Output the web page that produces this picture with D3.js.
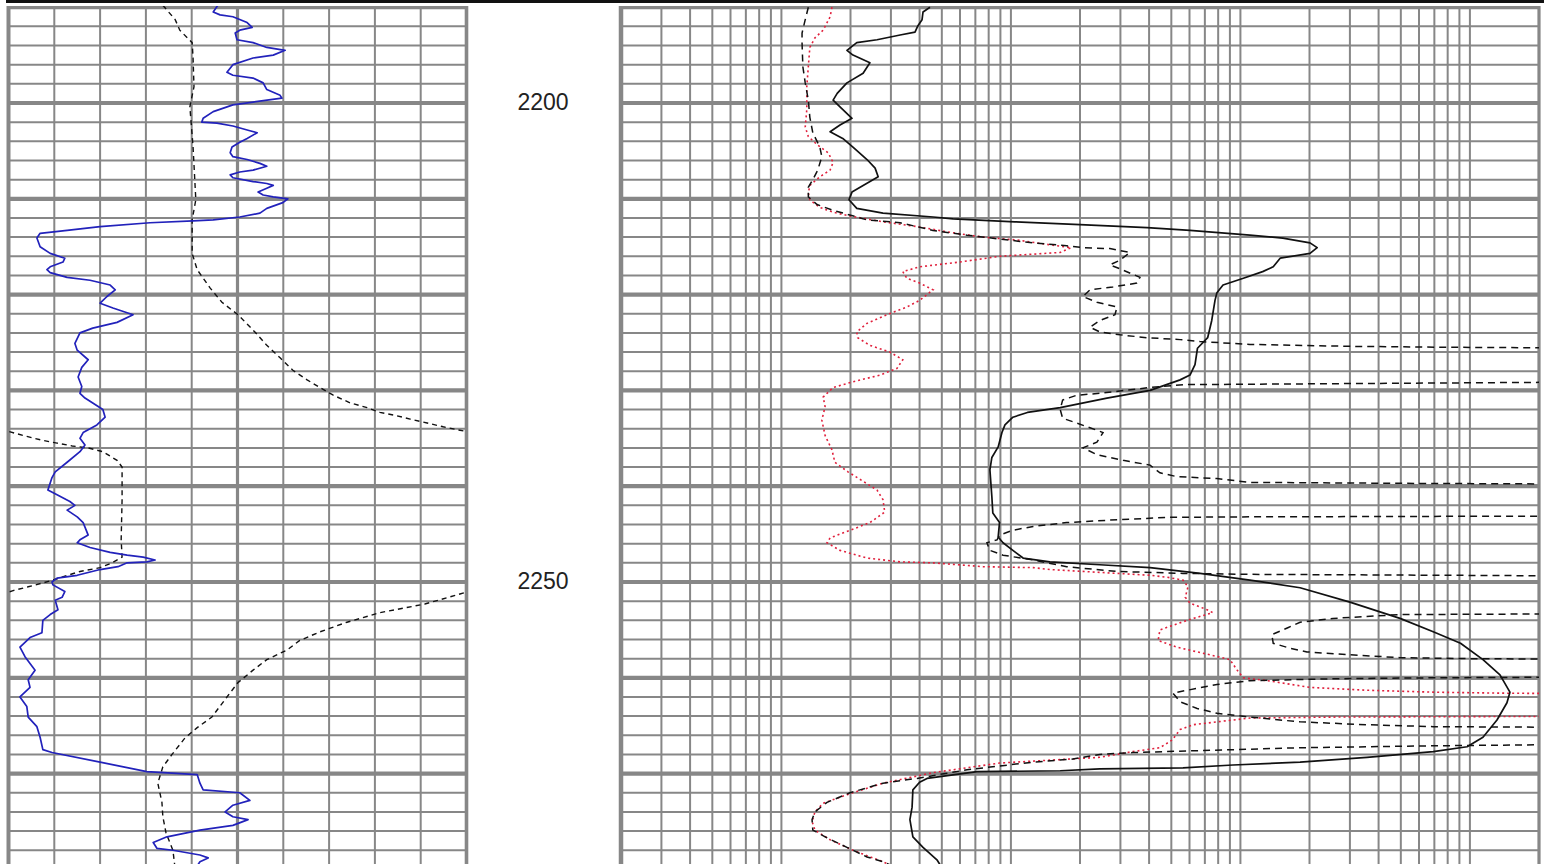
<!DOCTYPE html>
<html><head><meta charset="utf-8">
<script src="https://cdn.jsdelivr.net/npm/d3@7"></script>
<style>html,body{margin:0;padding:0;background:#fff;overflow:hidden}</style>
</head><body>
<svg id="chart" width="1544" height="864"></svg>
<script>
// ---------------- DATA ----------------
const depthRange = [2190, 2280];
const depthLabels = [2200, 2250];
const linearTicks = [0, 10, 20, 30, 40, 50, 60, 70, 80, 90, 100];
const logBases = [0.2, 2, 20, 200];
const logMultipliers = [1, 1.5, 2, 2.5, 3, 3.5, 4, 4.5, 5];
const logTop = 2000;

// Track 1 (linear 0-100): gamma ray [depth, value]
const grCurve = [[2189.8,45.7],[2190.5,44.7],[2190.8,46.2],[2191.0,49.0],[2191.6,52.1],[2192.1,53.2],[2192.4,50.5],[2192.7,49.5],[2193.4,49.9],[2193.7,53.4],[2194.2,56.4],[2194.5,60.4],[2195.0,57.8],[2195.3,53.4],[2196.0,49.0],[2196.8,47.7],[2197.1,49.0],[2197.4,53.4],[2197.9,55.6],[2198.6,56.4],[2199.2,59.3],[2199.5,59.7],[2199.9,53.4],[2200.2,49.0],[2200.9,44.7],[2201.6,42.5],[2202.0,42.2],[2202.1,45.5],[2202.4,49.0],[2202.9,52.7],[2203.1,54.3],[2203.7,52.1],[2204.1,50.5],[2204.6,48.8],[2205.2,48.4],[2205.6,49.0],[2205.9,52.1],[2206.3,54.9],[2206.6,56.4],[2207.0,53.4],[2207.2,50.5],[2207.5,48.4],[2207.8,49.0],[2208.2,53.4],[2208.4,56.4],[2208.6,57.8],[2208.9,56.4],[2209.3,54.5],[2209.6,55.6],[2209.8,57.8],[2210.0,61.0],[2210.4,59.9],[2211.0,56.4],[2211.5,54.9],[2211.9,50.5],[2212.2,44.7],[2212.3,40.3],[2212.5,30.9],[2212.9,20.0],[2213.3,12.8],[2213.6,6.9],[2214.1,6.2],[2215.0,6.9],[2215.7,9.1],[2216.2,12.3],[2216.6,11.9],[2217.1,9.1],[2217.4,8.4],[2217.7,9.1],[2218.2,12.8],[2218.5,17.8],[2219.0,22.2],[2219.5,23.3],[2220.2,21.5],[2220.9,20.0],[2221.4,22.8],[2222.1,27.2],[2222.9,23.7],[2223.5,18.4],[2224.0,15.6],[2225.1,14.5],[2225.8,15.0],[2226.8,17.4],[2227.6,16.0],[2228.6,15.2],[2229.6,16.0],[2230.3,15.6],[2230.8,16.7],[2232.0,20.6],[2232.8,21.1],[2233.6,19.3],[2234.4,16.3],[2235.0,15.6],[2235.7,16.7],[2236.4,15.6],[2237.5,12.8],[2238.5,10.2],[2239.1,9.5],[2240.4,8.6],[2240.9,10.6],[2241.6,13.4],[2242.0,14.5],[2242.5,12.8],[2243.2,15.0],[2243.8,16.3],[2245.1,17.4],[2245.6,15.6],[2245.9,15.0],[2246.4,17.8],[2246.9,22.2],[2247.2,25.9],[2247.4,29.4],[2247.7,32.0],[2247.9,30.2],[2248.0,25.9],[2248.4,23.9],[2248.7,20.0],[2249.3,15.0],[2249.6,10.6],[2250.0,9.5],[2250.3,9.7],[2251.0,12.3],[2251.6,11.7],[2251.9,10.2],[2252.9,10.8],[2253.4,9.1],[2254.0,7.5],[2255.3,7.3],[2255.8,4.7],[2256.8,2.5],[2257.8,3.6],[2259.2,5.8],[2260.2,4.3],[2261.0,4.7],[2262.0,2.5],[2263.0,4.0],[2264.1,4.3],[2265.1,6.2],[2266.2,6.9],[2267.5,7.5],[2267.8,9.5],[2268.8,20.0],[2269.8,30.2],[2270.1,41.2],[2271.0,41.8],[2271.7,42.5],[2272.0,50.5],[2272.8,52.7],[2273.3,49.0],[2274.0,47.3],[2274.5,49.0],[2274.8,52.3],[2275.4,49.0],[2275.9,41.8],[2276.6,34.6],[2277.2,31.6],[2277.8,32.4],[2278.0,35.9],[2278.5,41.8],[2278.8,43.6],[2279.2,41.8],[2280.0,40.7]];

// Track 1 dashed curve (values above 100 wrap back into the track)
const spCurve = [[2189.8,33.7],[2191.3,36.4],[2192.4,37.4],[2193.7,40.1],[2195.3,40.3],[2198.3,40.5],[2200.4,39.6],[2204.6,40.3],[2210.1,40.9],[2212.2,40.1],[2215.7,40.1],[2217.4,41.2],[2219.3,44.0],[2220.8,46.6],[2222.1,50.1],[2223.9,53.8],[2225.3,56.4],[2226.6,59.3],[2227.9,62.1],[2228.9,65.2],[2229.7,68.0],[2230.5,70.9],[2231.3,74.6],[2231.8,78.3],[2232.3,81.1],[2232.6,84.4],[2233.0,87.7],[2233.4,91.4],[2233.8,94.9],[2234.1,97.9],[2234.3,100.1],[2234.8,104.0],[2235.2,107.3],[2235.5,110.6],[2235.8,113.9],[2236.0,117.4],[2236.4,120.6],[2237.3,123.7],[2238.0,124.8],[2241.4,124.8],[2245.6,124.6],[2247.4,124.8],[2248.0,122.6],[2248.5,120.0],[2248.9,115.6],[2249.4,112.3],[2249.8,109.7],[2250.1,107.5],[2250.5,104.3],[2250.9,101.0],[2251.1,99.7],[2252.3,90.9],[2253.2,81.1],[2254.2,73.9],[2255.2,68.0],[2256.1,63.6],[2257.1,60.8],[2258.1,56.4],[2259.2,53.4],[2260.5,50.1],[2262.0,47.7],[2264.1,44.4],[2265.2,41.2],[2266.3,38.5],[2268.0,35.7],[2269.3,33.7],[2271.0,32.6],[2273.0,33.5],[2274.5,33.7],[2276.2,34.4],[2278.0,35.9],[2280.0,36.4]];

// Track 2 (log 0.2-2000): deep resistivity (solid)
const deepCurve = [[2190.0,4.44],[2190.5,4.14],[2191.3,4.10],[2191.9,3.94],[2192.6,3.82],[2192.9,3.29],[2193.4,2.61],[2193.7,2.13],[2194.5,1.93],[2195.0,2.05],[2195.8,2.43],[2196.9,2.27],[2197.9,1.93],[2199.0,1.75],[2199.7,1.68],[2200.4,1.80],[2201.6,2.03],[2202.3,1.80],[2203.0,1.63],[2203.7,1.85],[2204.6,2.05],[2205.9,2.36],[2206.8,2.56],[2207.7,2.64],[2208.6,2.27],[2209.3,2.03],[2210.1,1.97],[2211.0,2.13],[2211.5,2.77],[2211.9,4.58],[2212.1,5.6],[2212.4,10.4],[2212.7,20],[2213.0,39.2],[2213.3,60.3],[2213.8,110],[2214.1,153],[2214.6,201],[2215.1,216],[2215.7,201],[2216.2,149],[2217.1,139],[2217.6,125],[2218.3,103],[2219.0,84],[2219.8,79],[2220.6,77.5],[2222.7,75],[2224.5,72],[2225.6,65],[2227.3,63.4],[2228.4,60.3],[2228.9,54.6],[2230.0,40.4],[2230.8,26.2],[2231.8,16.4],[2232.3,11.8],[2232.8,10.2],[2233.6,9.42],[2234.4,9.14],[2235.9,8.8],[2237.0,8.26],[2238.3,8.1],[2239.7,8.18],[2241.1,8.26],[2242.8,8.34],[2243.8,8.92],[2245.3,8.8],[2245.9,9.24],[2246.7,10.2],[2247.5,11.3],[2247.9,14.8],[2248.2,24.4],[2248.5,40.4],[2249.1,66.7],[2249.8,110],[2250.6,182],[2252.1,300],[2253.8,496],[2255.2,692],[2256.4,910],[2258.1,1140],[2259.7,1352],[2261.5,1494],[2262.6,1450],[2264.4,1312],[2266.2,1140],[2267.2,972],[2267.7,692],[2268.3,356],[2268.8,182],[2269.1,92.8],[2269.4,56.2],[2269.5,24.4],[2269.7,16.4],[2269.8,7.12],[2270.5,4.31],[2270.9,4.0],[2271.7,3.74],[2273.5,3.71],[2274.8,3.63],[2276.6,3.74],[2277.7,4.14],[2279.0,4.76],[2279.8,5.0]];

// Track 2: medium resistivity (dashed); 5000 = off scale
const medCurve = [[2190.0,1.31],[2191.3,1.27],[2192.7,1.23],[2193.7,1.23],[2196.2,1.24],[2197.9,1.27],[2199.7,1.31],[2201.5,1.33],[2203.1,1.37],[2204.6,1.47],[2205.6,1.50],[2207.0,1.44],[2208.0,1.37],[2208.8,1.31],[2209.8,1.31],[2210.6,1.43],[2211.2,1.68],[2212.2,2.36],[2212.5,3.29],[2213.3,4.58],[2213.8,6.44],[2214.2,8.92],[2214.6,12.5],[2214.9,17.5],[2215.1,20.6],[2215.2,27],[2215.6,33],[2216.4,29.9],[2216.9,27],[2217.4,30.5],[2218.2,36.5],[2218.8,35.4],[2219.2,27.8],[2219.5,22.1],[2220.2,20.6],[2220.8,23.7],[2221.3,29],[2222.1,28.4],[2222.7,24.4],[2223.4,22.1],[2223.9,24.4],[2224.2,29.9],[2224.5,39.2],[2224.7,54.6],[2224.9,66.7],[2225.2,110],[2225.4,300],[2225.5,818],[2225.6,5000],[2229.1,5000],[2229.4,56.2],[2229.7,40.4],[2230.3,24.4],[2230.5,19.4],[2231.0,16.8],[2232.0,16.4],[2232.9,16.8],[2233.9,22.1],[2234.4,25.2],[2235.4,23.7],[2236.0,20.6],[2236.7,23.7],[2237.3,30.8],[2237.8,40.4],[2238.6,44.6],[2239.0,52.8],[2239.2,79],[2239.6,110],[2239.7,496],[2239.8,5000],[2243.1,5000],[2243.2,110],[2243.25,49.3],[2243.5,29],[2243.8,17.5],[2244.2,12.5],[2244.6,10.2],[2245.1,8.92],[2245.6,8.7],[2245.9,7.86],[2246.7,8.1],[2247.2,9.24],[2247.7,12.5],[2248.4,17.5],[2248.9,29],[2249.1,56.2],[2249.2,110],[2249.3,818],[2249.4,5000],[2253.3,5000],[2253.4,496],[2253.8,253],[2254.2,182],[2254.8,160],[2255.5,137],[2256.4,139],[2256.9,164],[2257.3,195],[2257.6,300],[2257.9,496],[2258.0,972],[2258.1,5000],[2259.9,5000],[2260.0,692],[2260.1,253],[2260.3,110],[2260.7,79],[2261.3,58.6],[2261.6,50.8],[2262.5,54.6],[2263.2,64.8],[2263.7,79],[2264.1,110],[2264.6,182],[2264.9,356],[2265.1,692],[2265.2,5000],[2266.9,5000],[2267.1,692],[2267.3,182],[2267.6,66.7],[2267.8,34],[2268.0,24.4],[2268.5,18.3],[2268.8,12.5],[2269.6,6.44],[2270.5,3.9],[2271.0,2.77],[2272.0,1.99],[2273.0,1.58],[2274.0,1.40],[2274.8,1.36],[2275.9,1.37],[2276.7,1.58],[2277.7,1.93],[2278.7,2.36],[2279.2,2.77],[2280.0,3.29]];

// Track 2: shallow resistivity (red dotted)
const shallowCurve = [[2190.0,1.66],[2191.0,1.63],[2192.4,1.52],[2193.2,1.40],[2194.2,1.33],[2196.2,1.31],[2198.3,1.29],[2200.7,1.29],[2202.5,1.27],[2203.5,1.31],[2204.4,1.44],[2205.2,1.60],[2206.2,1.68],[2207.0,1.63],[2207.7,1.47],[2208.6,1.33],[2209.4,1.31],[2210.1,1.33],[2210.9,1.47],[2211.4,1.68],[2211.8,1.99],[2212.4,2.77],[2212.9,3.9],[2213.5,5.43],[2214.0,7.56],[2214.3,10.6],[2214.8,14.8],[2215.1,18.3],[2215.6,16.4],[2216.0,8.92],[2216.6,6.0],[2217.1,4.0],[2217.6,3.38],[2218.3,3.52],[2218.8,4.0],[2219.5,4.58],[2220.6,4.0],[2221.3,3.52],[2222.1,2.88],[2223.0,2.36],[2223.9,2.13],[2224.5,2.15],[2225.3,2.43],[2226.0,2.97],[2226.8,3.38],[2227.7,3.19],[2228.4,2.69],[2229.1,2.05],[2229.7,1.68],[2230.7,1.52],[2231.7,1.55],[2233.1,1.50],[2234.7,1.55],[2236.2,1.66],[2237.5,1.71],[2238.5,1.95],[2239.4,2.24],[2240.4,2.61],[2241.4,2.77],[2242.7,2.82],[2243.8,2.43],[2244.6,1.99],[2245.4,1.63],[2245.9,1.58],[2246.7,1.80],[2247.5,2.36],[2247.9,3.29],[2248.0,4.58],[2248.4,7.56],[2248.5,12.5],[2248.7,14.8],[2249.1,29],[2249.3,40.4],[2249.5,47.8],[2249.8,56.2],[2250.5,59.1],[2251.6,57.5],[2252.2,60.3],[2252.9,71.6],[2253.2,75.7],[2254.0,58.6],[2255.0,44.6],[2256.1,43.8],[2256.8,52.8],[2257.6,73.7],[2258.1,90],[2259.2,96.8],[2260.0,103],[2260.3,131],[2261.0,201],[2261.3,356],[2261.5,692],[2261.6,1352],[2261.7,5000],[2264.0,5000],[2264.1,253],[2264.2,110],[2264.6,79],[2264.9,62.2],[2265.4,54.6],[2266.5,50.4],[2267.3,44.6],[2267.7,34],[2268.3,24.4],[2268.4,20.6],[2268.9,8.92],[2269.9,4.58],[2271.0,2.77],[2272.2,1.93],[2273.1,1.52],[2274.0,1.40],[2275.0,1.36],[2275.9,1.40],[2276.9,1.63],[2278.0,2.05],[2279.2,2.77],[2280.0,3.29]];

// ---------------- DRAWING ----------------
const W = 1544, H = 864;
const gridTop = 6;
const svg = d3.select('#chart');
const y = d3.scaleLinear().domain(depthRange).range([7.2, 869.4]);
const xL = d3.scaleLinear().domain([0, 100]).range([8.5, 466.5]);
const xR = d3.scaleLog().domain([0.2, logTop]).range([621, 1539]);

const gray = '#878787';
const thin = 2, thick = 4.2;

const defs = svg.append('defs');
defs.append('clipPath').attr('id', 'clipL').append('rect')
  .attr('x', xL(0)).attr('y', gridTop).attr('width', xL(100) - xL(0)).attr('height', H - gridTop);
defs.append('clipPath').attr('id', 'clipR').append('rect')
  .attr('x', xR(0.2)).attr('y', gridTop).attr('width', xR(logTop) - xR(0.2)).attr('height', H - gridTop);

svg.append('rect').attr('width', W).attr('height', H).attr('fill', '#fff');

const depthLines = d3.range(depthRange[0], depthRange[1] + 1, 2);
const rightTicks = logBases.flatMap(b => logMultipliers.map(m => +(b * m).toPrecision(6))).concat([logTop]);

function drawTrackGrid(clipId, x0, x1, vTicks, xScale, isThick) {
  const g = svg.append('g').attr('clip-path', `url(#${clipId})`);
  const hl = depthLines.map(d => ({d, t: d % 10 === 0}));
  const vl = vTicks.map(v => ({v, t: isThick(v)}));
  // thin first
  g.selectAll('line.ht').data(hl.filter(o => !o.t)).join('line')
    .attr('x1', x0).attr('x2', x1).attr('y1', o => y(o.d)).attr('y2', o => y(o.d))
    .attr('stroke', gray).attr('stroke-width', thin);
  g.selectAll('line.vt').data(vl.filter(o => !o.t)).join('line').attr('class','vt')
    .attr('x1', o => xScale(o.v)).attr('x2', o => xScale(o.v)).attr('y1', gridTop).attr('y2', H)
    .attr('stroke', gray).attr('stroke-width', thin);
  g.selectAll('line.hk').data(hl.filter(o => o.t)).join('line').attr('class','hk')
    .attr('x1', x0).attr('x2', x1).attr('y1', o => y(o.d)).attr('y2', o => y(o.d))
    .attr('stroke', gray).attr('stroke-width', thick);
  return g;
}

drawTrackGrid('clipL', xL(0), xL(100), linearTicks, xL, v => v === 0 || v === 50 || v === 100);
drawTrackGrid('clipR', xR(0.2), xR(logTop), rightTicks, xR, v => v === 0.2 || v === logTop);

// thick verticals (borders / center), drawn unclipped in x
const thickV = [
  {x: xL(0), w: 4}, {x: xL(50), w: 3.2}, {x: xL(100), w: 3.6},
  {x: xR(0.2), w: 4.5}, {x: xR(logTop), w: 3.2}
];
svg.append('g').selectAll('line').data(thickV).join('line')
  .attr('x1', d => d.x).attr('x2', d => d.x).attr('y1', gridTop).attr('y2', H)
  .attr('stroke', gray).attr('stroke-width', d => d.w);

// top black rule
svg.append('rect').attr('x', 6).attr('y', 0).attr('width', W - 6).attr('height', 3).attr('fill', '#111');

// depth labels
svg.append('g').selectAll('text').data(depthLabels).join('text')
  .attr('x', 543).attr('y', d => y(d) + 7)
  .attr('text-anchor', 'middle')
  .attr('font-family', '"Liberation Sans", Arial, sans-serif')
  .attr('font-size', 23).attr('fill', '#222')
  .text(d => d);

// curves
const lineL = (shift) => d3.line().x(p => xL(p[1] - shift)).y(p => y(p[0]));
const lineR = d3.line().x(p => xR(p[1])).y(p => y(p[0]));

const gL = svg.append('g').attr('clip-path', 'url(#clipL)');
[0, 100].forEach(shift => {
  gL.append('path').datum(spCurve).attr('d', lineL(shift))
    .attr('fill', 'none').attr('stroke', '#111').attr('stroke-width', 1.4)
    .attr('stroke-dasharray', '5,4');
});
gL.append('path').datum(grCurve).attr('d', lineL(0))
  .attr('fill', 'none').attr('stroke', '#2222bb').attr('stroke-width', 1.7)
  .attr('stroke-linejoin', 'round');

const gR = svg.append('g').attr('clip-path', 'url(#clipR)');
gR.append('path').datum(shallowCurve).attr('d', lineR)
  .attr('fill', 'none').attr('stroke', '#e0203c').attr('stroke-width', 1.6)
  .attr('stroke-dasharray', '2,3');
gR.append('path').datum(medCurve).attr('d', lineR)
  .attr('fill', 'none').attr('stroke', '#111').attr('stroke-width', 1.5)
  .attr('stroke-dasharray', '7,5');
gR.append('path').datum(deepCurve).attr('d', lineR)
  .attr('fill', 'none').attr('stroke', '#111').attr('stroke-width', 1.7)
  .attr('stroke-linejoin', 'round');
</script>
</body></html>
